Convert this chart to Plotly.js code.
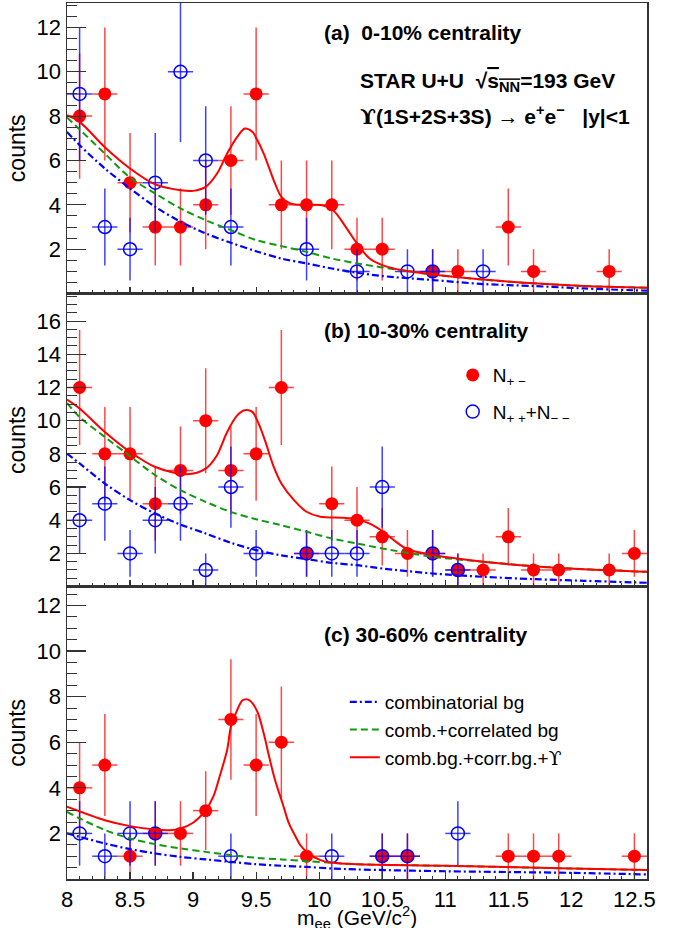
<!DOCTYPE html>
<html>
<head>
<meta charset="utf-8">
<script src="https://cdn.plot.ly/plotly-3.0.1.min.js"></script>
<style>html,body{margin:0;padding:0;background:#fff}#chart{width:678px;height:928px}</style>
</head>
<body>
<div id="chart"></div>
<script>
// ---------- data: panel (a) 0-10% ----------
const redA_x = [8.1,8.3,8.5,8.7,8.9,9.1,9.3,9.5,9.7,9.9,10.1,10.3,10.5,10.9,11.1,11.5,11.7,12.3];
const redA_y = [8,9,5,3,3,4,6,9,4,4,4,2,2,1,1,3,1,1];
const blueA_x = [8.1,8.3,8.5,8.7,8.9,9.1,9.3,9.9,10.3,10.7,10.9,11.3];
const blueA_y = [9,3,2,5,10,6,3,2,1,1,1,1];
const bgX_A = [8.0,8.1,8.3,8.5,8.7,8.9,9.1,9.3,9.5,9.7,9.9,10.1,10.3,10.5,10.9,11.3,11.7,12.1,12.6];
const combA = [7.29,6.69,5.64,4.74,3.91,3.24,2.71,2.29,1.91,1.58,1.36,1.13,0.94,0.79,0.61,0.43,0.34,0.23,0.13];
const corrA = [7.94,7.40,6.31,5.23,4.51,3.84,3.31,2.86,2.41,2.14,1.88,1.58,1.36,1.18,0.86,0.63,0.46,0.34,0.26];
const fitX_A = [8.0,8.1,8.3,8.5,8.7,8.9,9.0,9.1,9.19,9.27,9.35,9.41,9.47,9.51,9.56,9.6,9.65,9.7,9.77,9.9,10.01,10.11,10.21,10.3,10.4,10.5,10.62,10.71,10.9,11.3,11.7,12.1,12.6];
const fitA = [8.04,7.74,6.6,5.64,4.92,4.66,4.63,4.81,5.41,6.31,7.06,7.44,7.29,6.91,6.31,5.71,4.96,4.36,4.06,3.99,3.99,3.76,3.01,2.26,1.58,1.28,1.09,1.01,0.86,0.63,0.46,0.34,0.26];

// ---------- data: panel (b) 10-30% ----------
const redB_x = [8.1,8.3,8.5,8.7,8.9,9.1,9.3,9.5,9.7,9.9,10.1,10.3,10.5,10.7,10.9,11.1,11.3,11.5,11.7,11.9,12.3,12.5];
const redB_y = [12,8,8,5,7,10,7,8,12,2,5,4,3,2,2,1,1,3,1,1,1,2];
const blueB_x = [8.1,8.3,8.5,8.7,8.9,9.1,9.3,9.5,9.9,10.1,10.3,10.5,10.9,11.1];
const blueB_y = [4,5,2,4,5,1,6,2,2,2,2,6,2,1];
const bgX_B = [8.0,8.1,8.3,8.5,8.7,8.9,9.1,9.3,9.5,9.7,9.9,10.1,10.3,10.5,10.9,11.3,11.7,12.1,12.6];
const combB = [8.02,7.42,6.21,5.21,4.40,3.74,3.20,2.64,2.20,1.88,1.66,1.43,1.29,1.09,0.79,0.59,0.45,0.35,0.23];
const corrB = [11.07,10.22,9.02,7.86,6.71,5.81,5.11,4.50,4.06,3.70,3.30,2.90,2.60,2.30,1.80,1.50,1.23,1.05,0.89];
const fitX_B = [8.0,8.1,8.3,8.5,8.7,8.95,9.1,9.19,9.27,9.35,9.41,9.47,9.52,9.57,9.64,9.7,9.8,9.9,10.01,10.19,10.3,10.4,10.5,10.6,10.7,10.8,10.9,11.3,11.7,12.1,12.6];
const fitB = [11.27,10.73,9.32,8.12,7.21,6.77,7.11,7.92,9.32,10.32,10.63,10.53,9.82,8.81,7.21,6.21,5.21,4.51,4.21,4.15,4.05,3.8,3.35,2.75,2.25,2.05,1.9,1.5,1.23,1.05,0.89];

// ---------- data: panel (c) 30-60% ----------
const redC_x = [8.1,8.3,8.5,8.7,8.9,9.1,9.3,9.5,9.7,9.9,10.5,10.7,11.5,11.7,11.9,12.5];
const redC_y = [4,5,1,2,2,3,7,5,6,1,1,1,1,1,1,1];
const blueC_x = [8.1,8.3,8.5,8.7,9.3,10.1,10.5,10.7,11.1];
const blueC_y = [2,1,2,2,1,1,1,1,2];
const bgX_C = [8.0,8.1,8.3,8.5,8.7,8.9,9.1,9.3,9.5,9.7,9.9,10.1,10.3,11.0,12.0,12.6];
const combC = [2.0,1.85,1.56,1.31,1.12,0.97,0.86,0.75,0.65,0.58,0.53,0.46,0.42,0.34,0.27,0.2];
const corrC = [2.95,2.66,2.15,1.78,1.53,1.34,1.19,1.05,0.93,0.86,0.78,0.71,0.65,0.58,0.46,0.39];
const fitX_C = [8.0,8.3,8.5,8.7,8.82,8.9,9.0,9.1,9.16,9.21,9.27,9.3,9.35,9.39,9.42,9.45,9.51,9.56,9.6,9.65,9.71,9.76,9.8,9.85,9.9,10.01,10.11,10.3,11.0,12.0,12.6];
const fitC = [3.17,2.58,2.32,2.17,2.14,2.22,2.47,3.02,3.61,4.49,5.66,6.68,7.42,7.83,7.89,7.83,7.34,6.39,5.44,4.34,3.31,2.44,2.0,1.49,1.19,0.83,0.71,0.65,0.58,0.46,0.39];

// ---------- tick labels ----------
const yTicksA = [2,4,6,8,10,12];
const yTicksB = [2,4,6,8,10,12,14,16];
const yTicksC = [2,4,6,8,10,12];

// ---------- text ----------
const UPS = '<span style="font-family:\'DejaVu Serif\'">ϒ</span>';
const xTitle = 'm<sub>ee</sub> (GeV/c<sup>2</sup>)';
const yTitle = 'counts';
const nameRed = 'N<sub>+ −</sub>';
const nameBlue = 'N<sub>+ +</sub>+N<sub>− −</sub>';
const nameComb = 'combinatorial bg';
const nameCorr = 'comb.+correlated bg';
const nameFit = 'comb.bg.+corr.bg.+' + UPS;

const FONT = 'Liberation Sans, Arial, Helvetica, sans-serif';
const RED = '#ff0000', BLUE = '#0000ff', GREEN = '#109a10';
const RED_ERR = 'rgba(255,0,0,0.72)', BLUE_ERR = 'rgba(0,0,255,0.75)';

function pts(xs, ys, filled, xa, ya, show, name) {
  return {
    type: 'scatter', mode: 'markers', x: xs, y: ys, xaxis: xa, yaxis: ya,
    name: name, showlegend: show, legend: 'legend', legendgroup: filled ? 'r' : 'b',
    marker: filled ? {symbol: 'circle', size: 13, color: RED, line: {width: 0}}
                   : {symbol: 'circle-open', size: 13, color: BLUE, line: {width: 1.5, color: BLUE}},
    error_y: {type: 'sqrt', color: filled ? RED_ERR : BLUE_ERR, thickness: 1.5, width: 0},
    error_x: {type: 'constant', value: 0.1, color: filled ? RED_ERR : BLUE_ERR, thickness: 1.5, width: 0},
    cliponaxis: true, hoverinfo: 'x+y'
  };
}
function curve(xs, ys, color, dash, width, xa, ya, show, name) {
  return {
    type: 'scatter', mode: 'lines', x: xs, y: ys, xaxis: xa, yaxis: ya,
    name: name, showlegend: show, legend: 'legend2',
    line: {color: color, dash: dash, width: width, shape: 'spline', smoothing: 0.9}
  };
}
const DASHDOT = '7px,3px,2px,3px', DASH = '7px,4px';

const data = [
  pts(redA_x, redA_y, true, 'x', 'y', false, nameRed),
  pts(blueA_x, blueA_y, false, 'x', 'y', false, nameBlue),
  curve(bgX_A, combA, BLUE, DASHDOT, 2.2, 'x', 'y', false, nameComb),
  curve(bgX_A, corrA, GREEN, DASH, 2, 'x', 'y', false, nameCorr),
  curve(fitX_A, fitA, RED, 'solid', 2, 'x', 'y', false, nameFit),

  pts(redB_x, redB_y, true, 'x2', 'y2', true, nameRed),
  pts(blueB_x, blueB_y, false, 'x2', 'y2', true, nameBlue),
  curve(bgX_B, combB, BLUE, DASHDOT, 2.2, 'x2', 'y2', false, nameComb),
  curve(bgX_B, corrB, GREEN, DASH, 2, 'x2', 'y2', false, nameCorr),
  curve(fitX_B, fitB, RED, 'solid', 2, 'x2', 'y2', false, nameFit),

  pts(redC_x, redC_y, true, 'x3', 'y3', false, nameRed),
  pts(blueC_x, blueC_y, false, 'x3', 'y3', false, nameBlue),
  curve(bgX_C, combC, BLUE, DASHDOT, 2.2, 'x3', 'y3', true, nameComb),
  curve(bgX_C, corrC, GREEN, DASH, 2, 'x3', 'y3', true, nameCorr),
  curve(fitX_C, fitC, RED, 'solid', 2, 'x3', 'y3', true, nameFit)
];

const AX = '#333';
function xaxis(anchor, labels, extra) {
  return Object.assign({
    anchor: anchor, range: [8, 12.6], showgrid: false, zeroline: false,
    showline: true, linecolor: AX, linewidth: 1.5, mirror: true,
    ticks: 'inside', ticklen: 7, tickwidth: 1.2, tickcolor: AX,
    tickmode: 'linear', tick0: 8, dtick: 0.5, showticklabels: labels,
    tickfont: {family: FONT, size: 22, color: '#000'}, ticklabelstandoff: 0,
    minor: {ticks: 'inside', tickmode: 'linear', dtick: 0.1, tick0: 8, ticklen: 3.5, tickwidth: 1, tickcolor: AX, showgrid: false}
  }, extra || {});
}
function yaxis(anchor, dom, top, tv) {
  return {
    anchor: anchor, domain: dom, range: [0, top], showgrid: false, zeroline: false,
    showline: true, linecolor: AX, linewidth: 1.5, mirror: true,
    ticks: 'inside', ticklen: 19, tickwidth: 1.2, tickcolor: AX,
    tickmode: 'array', tickvals: tv, ticktext: tv.map(String),
    tickfont: {family: FONT, size: 22, color: '#000'},
    minor: {ticks: 'inside', tickmode: 'linear', dtick: 0.5, tick0: 0, ticklen: 10, tickwidth: 1, tickcolor: AX, showgrid: false},
    title: {text: yTitle, font: {family: FONT, size: 23, color: '#000'}, standoff: 4},
    automargin: false
  };
}

function note(text, xp, yp, size, bold, anchor) {
  return {xref: 'paper', yref: 'paper', x: xp, y: yp, xanchor: anchor || 'left', yanchor: 'middle',
          text: bold ? '<b>' + text + '</b>' : text, showarrow: false,
          font: {family: FONT, size: size, color: '#000'}};
}

const layout = {
  width: 678, height: 928,
  margin: {l: 67, r: 31, t: 3, b: 49},
  paper_bgcolor: '#fff', plot_bgcolor: '#fff',
  showlegend: true,
  font: {family: FONT, color: '#000'},
  xaxis: xaxis('y', false),
  xaxis2: xaxis('y2', false, {matches: 'x'}),
  xaxis3: xaxis('y3', true, {matches: 'x'}),
  yaxis: yaxis('x', [0.6683, 1], 13.1, yTicksA),
  yaxis2: yaxis('x2', [0.3338, 0.6683], 17.66, yTicksB),
  yaxis3: yaxis('x3', [0, 0.3338], 12.83, yTicksC),
  legend: {x: 0.665, y: 0.597, xanchor: 'left', yanchor: 'top', bgcolor: 'rgba(0,0,0,0)',
           font: {family: FONT, size: 19, color: '#000'}, traceorder: 'grouped', tracegroupgap: 9},
  legend2: {x: 0.479, y: 0.2237, xanchor: 'left', yanchor: 'top', bgcolor: 'rgba(0,0,0,0)',
            font: {family: FONT, size: 19, color: '#000'}, tracegroupgap: 0},
  annotations: [
    note('(a)\u00a0 0-10% centrality', 0.4397, 0.9658, 21, true),
    note('STAR U+U \u00a0√<span style="text-decoration:overline">s<sub>NN</sub></span>=193 GeV', 0.5017, 0.9098, 21, true),
    note(UPS + '(1S+2S+3S) → e<sup>+</sup>e<sup>−</sup>\u00a0\u00a0 |y|&lt;1', 0.5017, 0.8721, 21, true),
    note('(b) 10-30% centrality', 0.4397, 0.6266, 21, true),
    note('(c) 30-60% centrality', 0.4397, 0.2795, 21, true),
    note(xTitle, 0.5, -0.0445, 21, false, 'center')
  ]
};

Plotly.newPlot('chart', data, layout, {displayModeBar: false, staticPlot: true});
</script>
</body>
</html>
